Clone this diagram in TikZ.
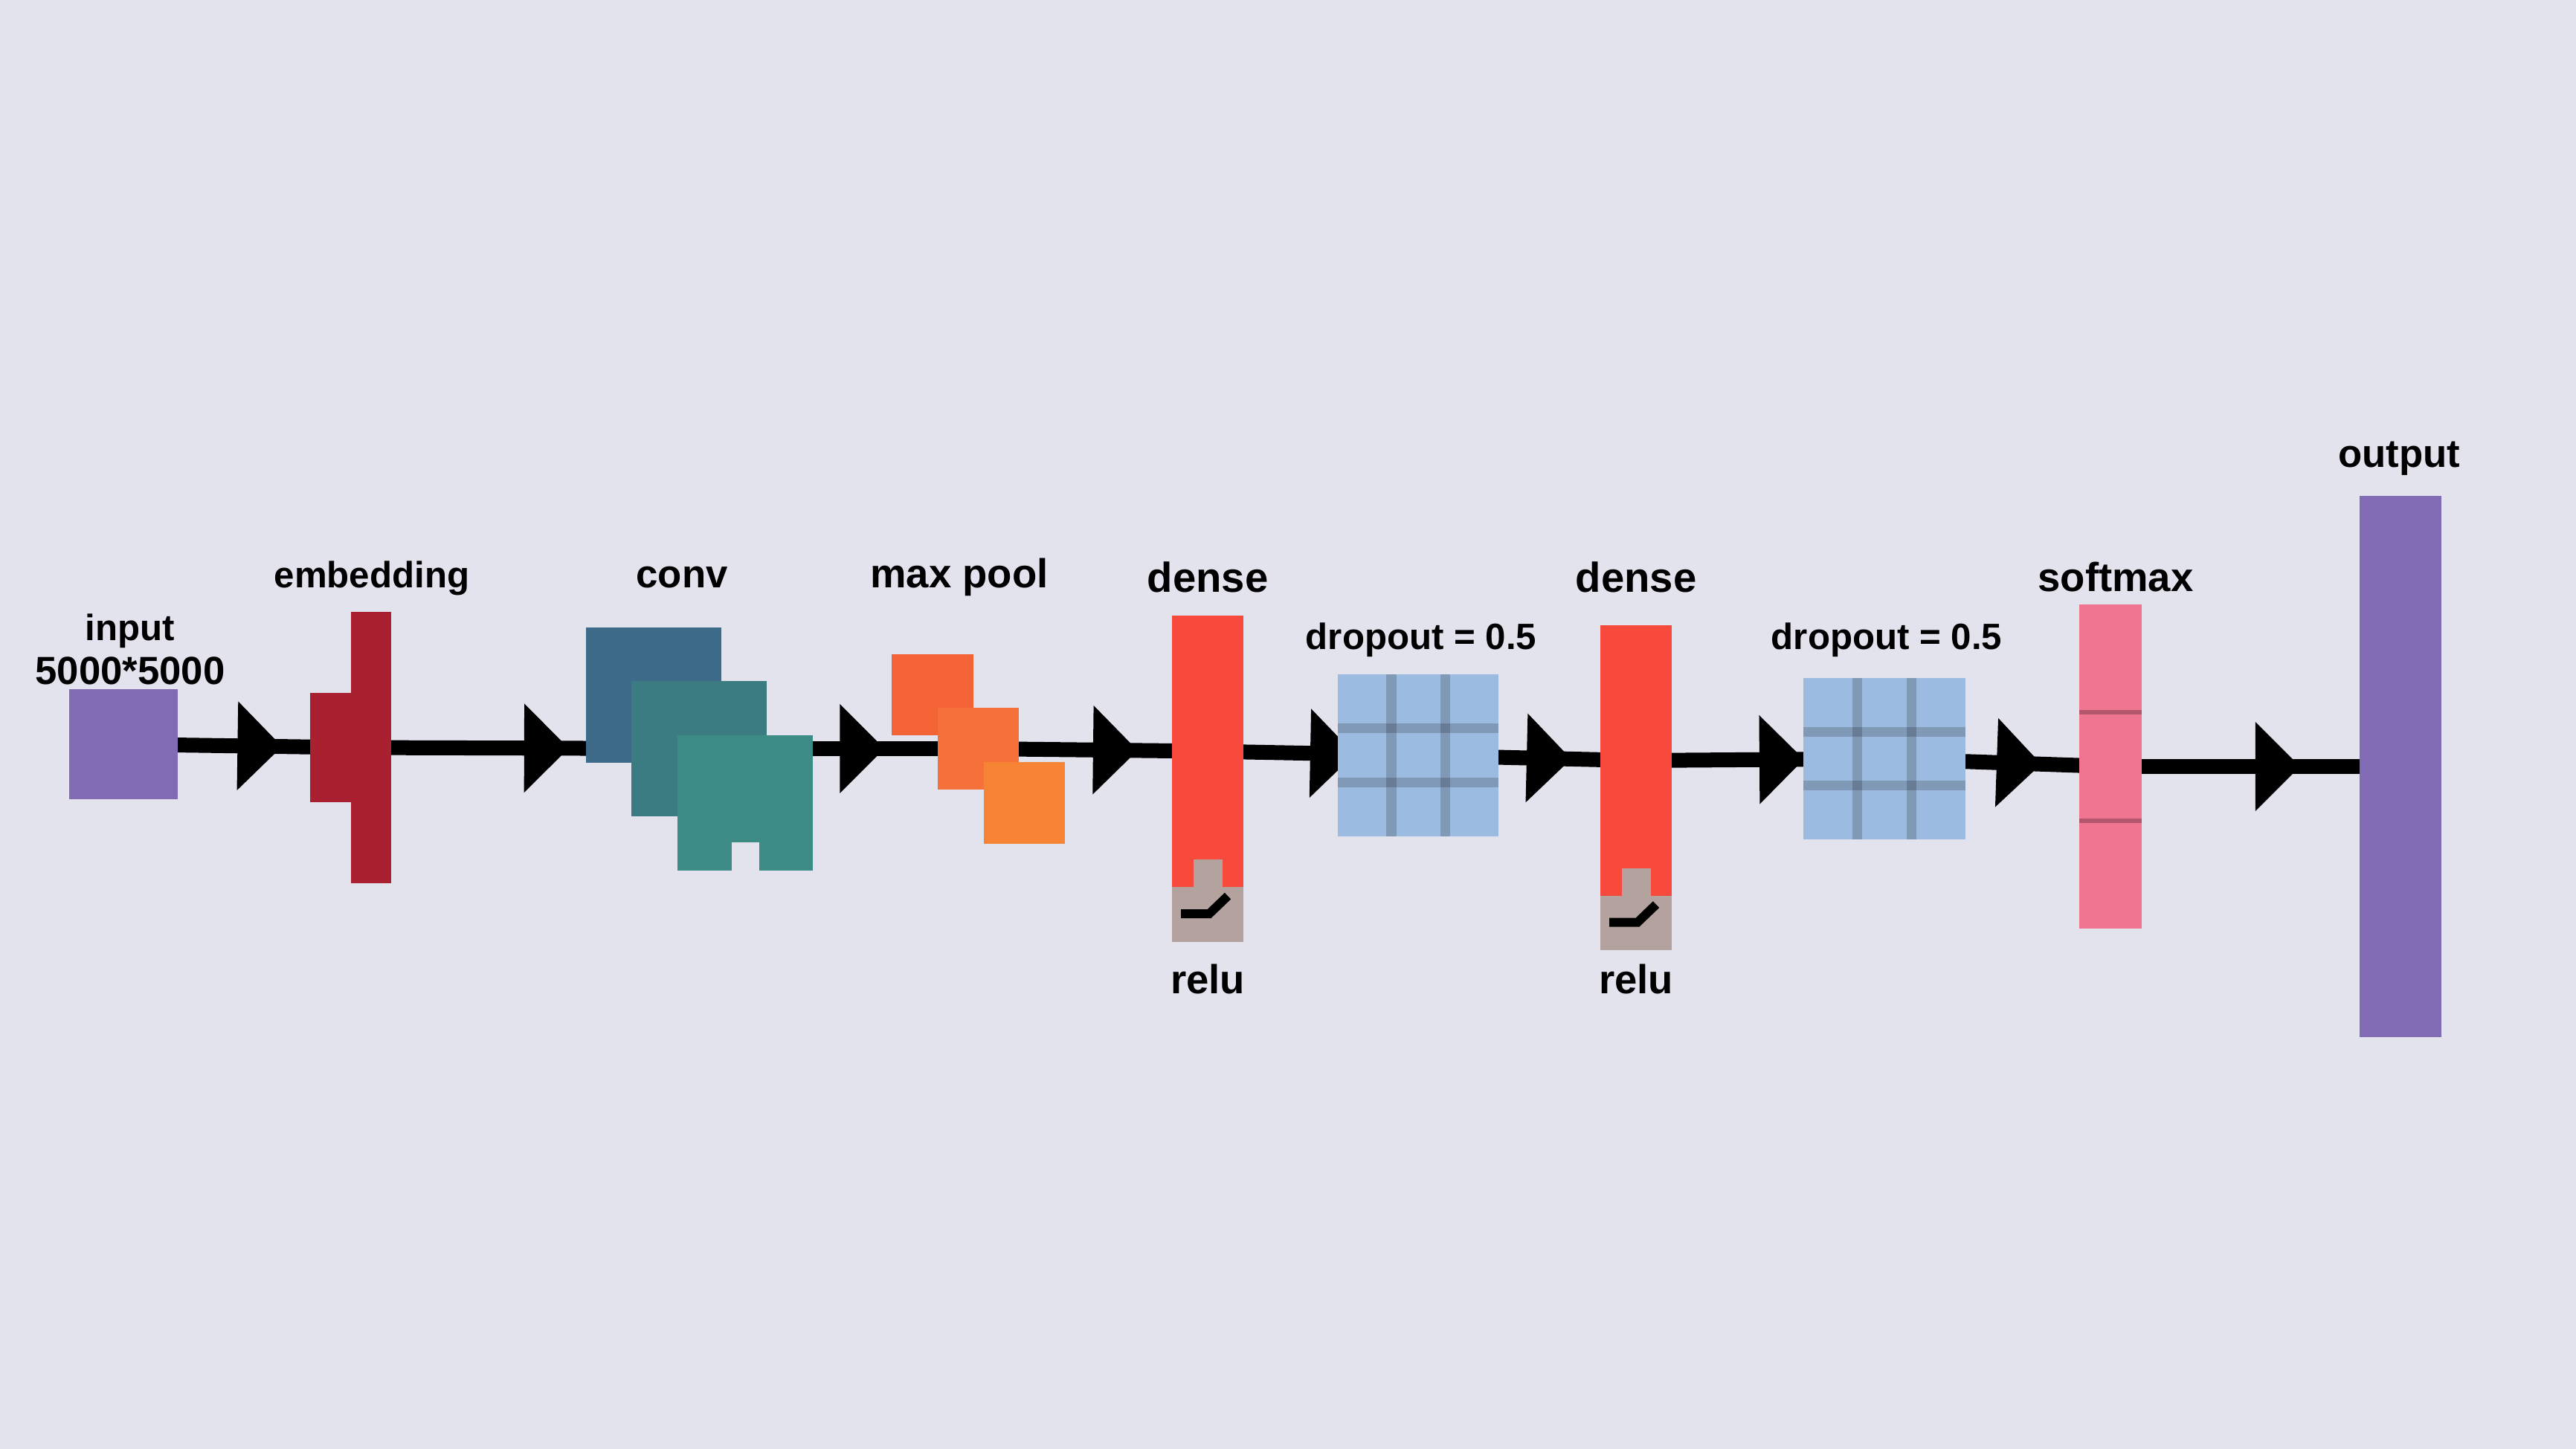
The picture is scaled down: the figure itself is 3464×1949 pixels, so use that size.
\documentclass[tikz,border=0pt]{standalone}
\usepackage{fontspec}
\setmainfont{Liberation Sans}
\usepackage{tikz}
\usetikzlibrary{arrows.meta, positioning, calc, decorations.markings}
\pgfdeclarelayer{back}
\pgfsetlayers{back,main}

\definecolor{bgcol}{HTML}{E3E3EE}
\definecolor{purp}{HTML}{826BB5}
\definecolor{embred}{HTML}{A92130}
\definecolor{convA}{HTML}{3E6B8A}
\definecolor{convB}{HTML}{3B7B82}
\definecolor{convC}{HTML}{3D8B85}
\definecolor{poolA}{HTML}{F46336}
\definecolor{poolB}{HTML}{F6713A}
\definecolor{poolC}{HTML}{F78335}
\definecolor{densered}{HTML}{F74A3D}
\definecolor{relugrey}{HTML}{B3A29D}
\definecolor{dropblue}{HTML}{9BBBE0}
\definecolor{softpink}{HTML}{F07591}

\begin{document}
\begin{tikzpicture}[x=0.01cm, y=-0.01cm,
    box/.style={rectangle, draw=none, inner sep=0pt, outer sep=0pt},
    lbl/.style={anchor=base, inner sep=0pt, font=\bfseries\fontsize{#1}{#1}\selectfont},
    lbl/.default=15,
    conn/.style={line width=0.2cm, postaction={decorate, decoration={markings,
        mark=at position -#1cm with {\arrow{Triangle[length=0.6cm, width=1.16cm]}}}}},
    gridln/.style={line width=0.13cm, black, opacity=0.18},
    relusym/.style={line width=0.12cm, black, line join=miter}
  ]
      \useasboundingbox (0,0) rectangle (3464,1949);

      % Input
      \node[box, fill=purp, minimum width=1.46cm, minimum height=1.47cm] (input) at (166,1001) {};
      \node[lbl=14] (lbl-input) at (175,861) {input};
      \node[lbl=15] (lbl-size) at (175,920) {5000*5000};

      % Embedding
      \node[box, fill=embred, minimum width=1.09cm, minimum height=1.47cm] (emb) at (471.5,1005.5) {};
      \node[box, fill=embred, minimum width=0.54cm, minimum height=3.64cm, anchor=east] (embbar) at (emb.east) {};
      \node[lbl=14] (lbl-emb) at (500,790) {embedding};

      % Convolution stack
      \node[box, fill=convA, minimum size=1.82cm] (conv1) at (879,935) {};
      \node[box, fill=convB, minimum size=1.82cm] (conv2) at (940,1007) {};
      \node[box, fill=convC, minimum size=1.82cm] (conv3) at (1002,1080) {};
      \node[box, fill=bgcol, minimum width=0.37cm, minimum height=0.38cm, anchor=south] (notch) at (conv3.south) {};
      \node[lbl=15] (lbl-conv) at (917,790) {conv};

      % Max pooling stack
      \node[box, fill=poolA, minimum size=1.09cm] (pool1) at (1254,934.5) {};
      \node[box, fill=poolB, minimum size=1.09cm] (pool2) at (1315.5,1007) {};
      \node[box, fill=poolC, minimum size=1.09cm] (pool3) at (1377.5,1080) {};
      \node[lbl=15.5] (lbl-pool) at (1290,790) {max pool};

      % Dense 1 with relu
      \node[box, fill=densered, minimum width=0.96cm, minimum height=3.65cm] (dense1) at (1624,1010.5) {};
      \node[box, fill=relugrey, minimum width=0.96cm, minimum height=0.74cm, below=0pt of dense1] (relu1) {};
      \node[box, fill=relugrey, minimum width=0.39cm, minimum height=0.37cm, above=0pt of relu1] (tab1) {};
      \draw[relusym] ($(relu1.center)+(-36,-1)$) -- ++(38,0) -- ++(25,-24);
      \node[lbl=16] (lbl-dense1) at (1624,796) {dense};
      \node[lbl=15.5] (lbl-relu1) at (1624,1336) {relu};

      % Dropout 1
      \node[box, fill=dropblue, minimum width=2.16cm, minimum height=2.18cm] (drop1) at (1907,1016) {};
      \node[lbl=14] (lbl-drop1) at (1911,873) {dropout = 0.5};

      % Dense 2 with relu
      \node[box, fill=densered, minimum width=0.96cm, minimum height=3.64cm] (dense2) at (2200,1023) {};
      \node[box, fill=relugrey, minimum width=0.96cm, minimum height=0.73cm, below=0pt of dense2] (relu2) {};
      \node[box, fill=relugrey, minimum width=0.39cm, minimum height=0.37cm, above=0pt of relu2] (tab2) {};
      \draw[relusym] ($(relu2.center)+(-36,-1)$) -- ++(38,0) -- ++(25,-24);
      \node[lbl=16] (lbl-dense2) at (2200,796) {dense};
      \node[lbl=15.5] (lbl-relu2) at (2200,1336) {relu};

      % Dropout 2
      \node[box, fill=dropblue, minimum width=2.18cm, minimum height=2.17cm] (drop2) at (2534,1020.5) {};
      \node[lbl=14] (lbl-drop2) at (2537,873) {dropout = 0.5};

      % Dropout grids
      \foreach \n in {drop1,drop2} {
        \foreach \f in {0.3333,0.6667} {
          \draw[gridln] ($(\n.north west)!\f!(\n.north east)$) -- ($(\n.south west)!\f!(\n.south east)$);
          \draw[gridln] ($(\n.north west)!\f!(\n.south west)$) -- ($(\n.north east)!\f!(\n.south east)$);
        }
      }

      % Softmax
      \node[box, fill=softpink, minimum width=0.84cm, minimum height=4.36cm] (soft) at (2838,1031) {};
      \foreach \f in {0.3333,0.6667}
        \draw[line width=0.06cm, black, opacity=0.25] ($(soft.north west)!\f!(soft.south west)$) -- ($(soft.north east)!\f!(soft.south east)$);
      \node[lbl=15.5] (lbl-soft) at (2845,795) {softmax};

      % Output
      \node[box, fill=purp, minimum width=1.10cm, minimum height=7.28cm] (output) at (3228,1031) {};
      \node[lbl=15] (lbl-out) at (3226,629) {output};

      % Background and connectors behind the layers
      \begin{pgfonlayer}{back}
        \fill[bgcol] (0,0) rectangle (3464,1949);
        \draw[conn=0.92] (input.center) -- (emb.center);
        \draw[conn=1.75] (emb.center) -- (conv2.center);
        \draw[conn=1.26] (conv2.center) -- (pool2.center);
        \draw[conn=0.94] (pool2.center) -- (dense1.center);
        \draw[conn=0.85] (dense1.center) -- (drop1.center);
        \draw[conn=0.87] (drop1.center) -- (dense2.center);
        \draw[conn=1.08] (dense2.center) -- (drop2.center);
        \draw[conn=0.93] (drop2.center) -- (soft.center);
        \draw[conn=1.35] (soft.center) -- (output.center);
      \end{pgfonlayer}
\end{tikzpicture}
\end{document}
